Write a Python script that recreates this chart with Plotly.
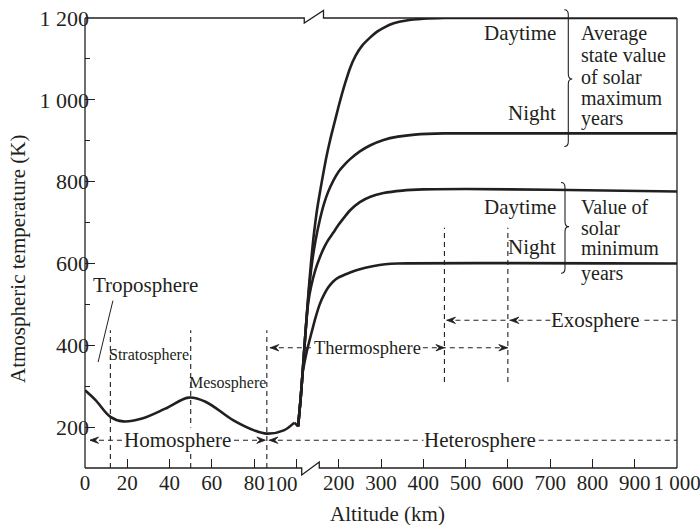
import numpy as np
import plotly.graph_objects as go

# ---------------- data (altitude km, temperature K) ----------------
base_alt = [0, 5, 12, 18, 27, 38, 49, 57, 70, 80, 86, 94, 99]
base_temp = [290, 266, 225, 214, 221, 245, 272, 262, 217, 192, 184, 192, 211]
notch_alt = [99, 104]
notch_temp = [211, 202]

day_max_alt = [104, 110, 115, 120, 125, 130, 135, 140, 145, 150, 160, 170, 180, 187, 200,
               215, 227, 240, 255, 274, 290, 306, 330, 360, 400, 450, 1000]
day_max_temp = [202, 270, 339, 410, 480, 548, 608, 660, 703, 740, 800, 856, 903, 932, 985,
                1040, 1078, 1108, 1132, 1152, 1166, 1176, 1187, 1194, 1198, 1200, 1200]
night_max_alt = [104, 110, 115, 120, 125, 132, 138, 145, 155, 165, 175, 187, 200, 215, 227,
                 250, 275, 306, 340, 380, 450, 1000]
night_max_temp = [202, 270, 339, 410, 480, 560, 610, 655, 705, 745, 775, 802, 825, 843, 855,
                  874, 889, 902, 910, 915, 918, 918]
day_min_alt = [104, 110, 115, 122, 128, 135, 145, 155, 165, 175, 187, 200, 215, 227, 250,
               275, 306, 350, 400, 500, 700, 1000]
day_min_temp = [202, 270, 339, 440, 505, 545, 585, 614, 638, 657, 675, 695, 715, 730, 750,
                763, 772, 778, 781, 782, 780, 776]
night_min_alt = [104, 110, 115, 120, 125, 130, 136, 145, 155, 165, 175, 187, 200, 215, 227,
                 250, 280, 310, 340, 1000]
night_min_temp = [202, 270, 335, 363, 387, 408, 432, 467, 500, 523, 541, 556, 566, 573, 578,
                  586, 593, 598, 600, 600]

layer_bounds = [12, 50, 86]          # tropopause, stratopause, mesopause
upper_bounds = [450, 600]            # thermopause range
x_tick_alt = [0, 20, 40, 60, 80, 100, 200, 300, 400, 500, 600, 700, 800, 900, 1000]
x_tick_text = ["0", "20", "40", "60", "80", "", "200", "300", "400", "500",
               "600", "700", "800", "900", "1 000"]
y_tick_vals = [200, 400, 600, 800, 1000, 1200]
y_tick_text = ["200", "400", "600", "800", "1 000", "1 200"]
y_minor_vals = [300, 500, 700, 900, 1100]

# ---------------- broken-axis scale ----------------
BREAK = 100.0
COMPRESS = 5.0


def u(h):
    h = np.asarray(h, dtype=float)
    return np.where(h <= BREAK, h, BREAK + (h - BREAK) / COMPRESS)


W, H = 700, 525
ML, MR, MT, MB = 85, 23, 18, 57
PW, PH = W - ML - MR, H - MT - MB
UMAX = float(u(1000))
YMIN, YMAX = 100, 1200
PXU = PW / UMAX


def px_u(p):
    return p / PXU


def pxx(uu):
    return uu / UMAX


def pyy(T):
    return (T - YMIN) / (YMAX - YMIN)


INK = "#231f20"
FONT = "Liberation Serif"
FS = 21

fig = go.Figure()

curve_style = dict(color=INK, width=2.6)
fig.add_trace(go.Scatter(x=u(base_alt), y=base_temp, mode="lines",
                         line=dict(shape="spline", smoothing=1.0, **curve_style),
                         hoverinfo="skip"))
fig.add_trace(go.Scatter(x=u(notch_alt), y=notch_temp, mode="lines",
                         line=curve_style, hoverinfo="skip"))
for a, t in [(night_min_alt, night_min_temp), (day_min_alt, day_min_temp),
             (night_max_alt, night_max_temp), (day_max_alt, day_max_temp)]:
    fig.add_trace(go.Scatter(x=u(a), y=t, mode="lines",
                             line=dict(shape="spline", smoothing=0.6, **curve_style),
                             hoverinfo="skip"))

shapes = []
DASH = "5px,4px"
dline = dict(color=INK, width=1.1, dash=DASH)

for b in layer_bounds:
    shapes.append(dict(type="line", xref="x", yref="y", x0=float(u(b)), x1=float(u(b)),
                       y0=YMIN, y1=437, line=dline))
for b in upper_bounds:
    shapes.append(dict(type="line", xref="x", yref="y", x0=float(u(b)), x1=float(u(b)),
                       y0=310, y1=687, line=dline))

T_HOMO, T_THERMO, T_EXO = 168, 394, 461
meso = float(u(layer_bounds[2]))
shapes.append(dict(type="line", xref="x", yref="y", x0=px_u(5), x1=meso - px_u(2),
                   y0=T_HOMO, y1=T_HOMO, line=dline))
shapes.append(dict(type="line", xref="x", yref="y", x0=meso + px_u(2), x1=UMAX,
                   y0=T_HOMO, y1=T_HOMO, line=dline))
shapes.append(dict(type="line", xref="x", yref="y", x0=meso + px_u(3), x1=float(u(600)),
                   y0=T_THERMO, y1=T_THERMO, line=dline))
shapes.append(dict(type="line", xref="x", yref="y", x0=float(u(450)) + px_u(2), x1=UMAX,
                   y0=T_EXO, y1=T_EXO, line=dline))

# troposphere pointer
shapes.append(dict(type="line", xref="x", yref="y", x0=13.2, y0=509, x1=6.2, y1=359,
                   line=dict(color=INK, width=1)))


def arrowhead(tip_u, T, direction):
    x = pxx(tip_u)
    y = pyy(T)
    L = 8.5 / PW
    N = 5.5 / PW
    h = 3.2 / PH
    xb = x - direction * L
    xn = x - direction * N
    path = f"M{x},{y} L{xb},{y + h} L{xn},{y} L{xb},{y - h} Z"
    return dict(type="path", xref="paper", yref="paper", path=path,
                fillcolor=INK, line=dict(color=INK, width=0.8))


shapes.append(arrowhead(px_u(5), T_HOMO, -1))
shapes.append(arrowhead(meso - px_u(1.5), T_HOMO, +1))
shapes.append(arrowhead(meso + px_u(2.5), T_HOMO, -1))
shapes.append(arrowhead(meso + px_u(3.5), T_THERMO, -1))
shapes.append(arrowhead(float(u(450)), T_THERMO, +1))
shapes.append(arrowhead(float(u(600)) - px_u(0.5), T_THERMO, +1))
shapes.append(arrowhead(float(u(450)) + px_u(2.5), T_EXO, -1))
shapes.append(arrowhead(float(u(600)) + px_u(2.5), T_EXO, -1))

# frame with axis breaks
fr = dict(color=INK, width=1.3)
shapes.append(dict(type="line", xref="paper", yref="paper", x0=0, x1=0, y0=0, y1=1, line=fr))
shapes.append(dict(type="line", xref="paper", yref="paper", x0=1, x1=1, y0=0, y1=1, line=fr))
b0, b1 = pxx(102.5), pxx(110.8)
shapes.append(dict(type="path", xref="paper", yref="paper",
                   path=f"M0,0 L{b0},0 L{b0},{-7 / PH} L{b1},{6 / PH} L{b1},0 L1,0", line=fr))
t0, t1 = pxx(103.7), pxx(112.8)
shapes.append(dict(type="path", xref="paper", yref="paper",
                   path=f"M0,1 L{t0},1 L{t0},{1 - 5 / PH} L{t1},{1 + 7.5 / PH} L{t1},1 L1,1", line=fr))


def brace(uu, T_top, T_bot, T_mid):
    x = pxx(uu)
    yt, yb, ym = pyy(T_top), pyy(T_bot), pyy(T_mid)
    w = 4.0 / PW
    c = 5.0 / PH
    p = (f"M{x - w},{yt} Q{x},{yt} {x},{yt - c} L{x},{ym + c} "
         f"Q{x},{ym} {x + w},{ym} Q{x},{ym} {x},{ym - c} L{x},{yb + c} Q{x},{yb} {x - w},{yb}")
    return dict(type="path", xref="paper", yref="paper", path=p, line=dict(color=INK, width=1.1))


shapes.append(brace(px_u(568.3 - ML), 1220, 886, 1051))
shapes.append(brace(px_u(565 - ML), 798, 576, 690))

annotations = []


def txt(text, x, y, size=FS, xanchor="center", yanchor="middle", bg=None, xref="x", yref="y", **kw):
    d = dict(text=text, x=x, y=y, xref=xref, yref=yref, showarrow=False,
             xanchor=xanchor, yanchor=yanchor, font=dict(family=FONT, size=size, color=INK))
    if bg:
        d.update(bgcolor=bg, borderpad=0)
    d.update(kw)
    annotations.append(d)


txt("Troposphere", 3.0, 547, xanchor="left")
txt("Stratosphere", 30.2, 376, size=16)
txt("Mesosphere", 67.3, 307, size=16)
txt("Homosphere", 43.9, T_HOMO, bg="white")
txt("Heterosphere", float(u(534)), T_HOMO, bg="white")
txt("Thermosphere", float(u(269)), T_THERMO, size=18.5, bg="white")
txt("Exosphere", float(u(808)), T_EXO, bg="white")

xr = px_u(558.3 - ML)
txt("Daytime", xr, 1163, xanchor="right")
txt("Night", xr, 967, xanchor="right")
txt("Daytime", xr, 739, xanchor="right")
txt("Night", xr, 641, xanchor="right")

xl = px_u(579.3 - ML)
for line, T in zip(["Average", "state value", "of solar", "maximum", "years"],
                   [1163, 1110, 1057, 1004, 955]):
    txt(line, xl, T, size=20, xanchor="left")
for line, T in zip(["Value of", "solar", "minimum", "years"], [739, 686, 637, 576]):
    txt(line, xl, T, size=20, xanchor="left")

txt("100", px_u(281.7 - ML), -16 / PH, size=21, yref="paper")
txt("Altitude (km)", pxx(px_u(387.5 - ML)), -46 / PH, xref="paper", yref="paper")
txt("Atmospheric temperature (K)", -67 / PW, (H - MB - 259) / PH, xref="paper", yref="paper",
    textangle=-90)

fig.update_layout(
    width=W, height=H, margin=dict(l=ML, r=MR, t=MT, b=MB, autoexpand=False),
    plot_bgcolor="white", paper_bgcolor="white", showlegend=False,
    shapes=shapes, annotations=annotations,
    font=dict(family=FONT, size=FS, color=INK),
    xaxis=dict(range=[0, UMAX], tickvals=list(u(x_tick_alt)), ticktext=x_tick_text,
               ticks="inside", ticklen=9, tickwidth=1.2, tickcolor=INK, tickangle=0,
               showgrid=False, zeroline=False, showline=False, automargin=False,
               ticklabeloverflow="allow",
               tickfont=dict(family=FONT, size=21, color=INK)),
    yaxis=dict(range=[YMIN, YMAX], tickvals=y_tick_vals, ticktext=y_tick_text,
               ticks="inside", ticklen=10, tickwidth=1.2, tickcolor=INK,
               minor=dict(tickvals=y_minor_vals, ticks="inside", ticklen=5, tickwidth=1.2,
                          tickcolor=INK, showgrid=False),
               showgrid=False, zeroline=False, showline=False, automargin=False,
               ticklabelstandoff=-5,
               tickfont=dict(family=FONT, size=22, color=INK)),
)

fig.write_html("out.html")
